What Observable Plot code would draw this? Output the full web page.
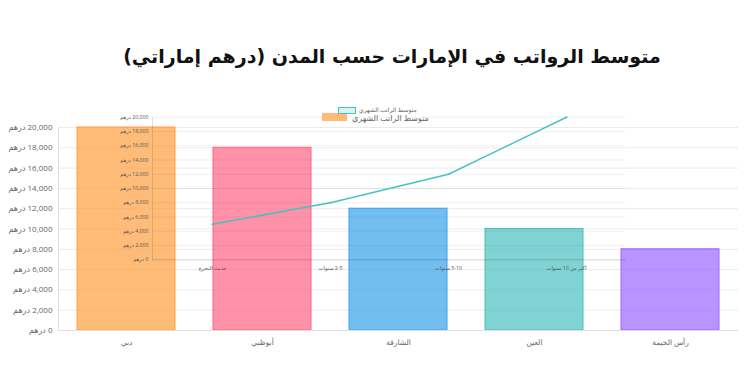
<!DOCTYPE html>
<html><head><meta charset="utf-8">
<script src="https://cdn.jsdelivr.net/npm/d3@7"></script>
<script src="https://cdn.jsdelivr.net/npm/@observablehq/plot@0.6"></script>
<style>
body{margin:0;background:#fff;}
#wrap{position:relative;width:750px;height:375px;overflow:hidden;background:#fff;font-family:"Open Sans","DejaVu Sans",sans-serif;}
#title{position:absolute;top:45px;left:17px;width:750px;text-align:center;font-family:"DejaVu Sans",sans-serif;font-weight:bold;font-size:19px;color:#111;direction:rtl;}
.layer{position:absolute;left:0;top:0;}
.leg{position:absolute;display:flex;align-items:center;color:#666;white-space:nowrap;}
.layer g[aria-label="y-axis tick label"] text{direction:rtl;text-anchor:start;}
.layer g[aria-label="x-axis tick label"] text{direction:rtl;}
</style></head>
<body>
<div id="wrap">
  <div id="outer" class="layer"></div>
  <div id="inner" class="layer"></div>
  <div id="title">متوسط الرواتب في الإمارات حسب المدن (درهم إماراتي)</div>
  <div class="leg" id="leg1" style="left:322px;top:110px;height:14px;font-size:8px;">
    <span style="display:inline-block;width:25px;height:8px;background:rgba(255,159,64,0.7);margin-right:5px;"></span>
    <span>متوسط الراتب الشهري</span>
  </div>
  <div class="leg" id="leg2" style="left:338px;top:105px;height:10px;font-size:6px;">
    <span style="display:inline-block;width:16px;height:5px;background:rgba(75,192,192,0.2);border:1px solid rgb(75,192,192);margin-right:3px;"></span>
    <span>متوسط الراتب الشهري</span>
  </div>
</div>
<script>
// ---- data ----
const cities = ["دبي", "أبوظبي", "الشارقة", "العين", "رأس الخيمة"];
const citySalaries = [20000, 18000, 12000, 10000, 8000];
const cityColors = ["rgba(255,159,64,0.7)", "rgba(255,99,132,0.7)", "rgba(54,162,235,0.7)", "rgba(75,192,192,0.7)", "rgba(153,102,255,0.7)"];
const cityBorders = ["rgb(255,159,64)", "rgb(255,99,132)", "rgb(54,162,235)", "rgb(75,192,192)", "rgb(153,102,255)"];
const experience = ["حديث التخرج", "2-5 سنوات", "5-10 سنوات", "أكثر من 10 سنوات"];
const experienceSalaries = [5000, 8000, 12000, 20000];
const yTicks = [0, 2000, 4000, 6000, 8000, 10000, 12000, 14000, 16000, 18000, 20000];

const fmt = d => d3.format(",")(d) + " درهم";
const gridColor = "#ebebeb";

// ---- outer bar chart ----
const OW = 750, OH = 375, OL = 58, OR = 12, OT = 127, OB = 45;
const barData = cities.map((c, i) => ({city: c, salary: citySalaries[i], fill: cityColors[i], stroke: cityBorders[i]}));
const oS = (OW - OL - OR) + (OH - OT - OB);
const outer = Plot.plot({
  width: OW, height: OH,
  marginLeft: OL, marginRight: OR, marginTop: OT, marginBottom: OB,
  style: {background: "transparent", fontFamily: "'Open Sans', 'DejaVu Sans', sans-serif", color: "#666"},
  x: {domain: cities, paddingInner: 0.28, paddingOuter: 0.14, label: null},
  y: {domain: [0, 20000], label: null},
  color: {type: "identity"},
  marks: [
    Plot.gridY(yTicks, {stroke: gridColor, strokeOpacity: 1}),
    Plot.barY(barData, {x: "city", y: "salary", fill: "fill", stroke: "stroke", strokeWidth: 1}),
    Plot.frame({stroke: "#dedede", strokeDasharray: `0 ${oS} ${oS}`}),
    Plot.axisY(yTicks, {tickSize: 0, tickPadding: 6, tickFormat: fmt, fontSize: 8, fill: "#666", label: null}),
    Plot.axisX({tickSize: 0, tickPadding: 9, fontSize: 7.5, fill: "#666", label: null})
  ]
});
document.getElementById("outer").appendChild(outer);

// ---- inner line chart (overlaid) ----
const IL = 152, IR = 125, IT = 116.7, IB = 115.7;
const iS = (OW - IL - IR) + (OH - IT - IB);
const lineData = experience.map((e, i) => ({exp: e, salary: experienceSalaries[i]}));
const inner = Plot.plot({
  width: OW, height: OH,
  marginLeft: IL, marginRight: IR, marginTop: IT, marginBottom: IB,
  style: {background: "transparent", fontFamily: "'Open Sans', 'DejaVu Sans', sans-serif", color: "#666"},
  x: {type: "point", domain: experience, padding: 0.5, label: null},
  y: {domain: [0, 20000], label: null},
  marks: [
    Plot.gridY(yTicks, {stroke: "rgba(0,0,0,0.06)", strokeOpacity: 1}),
    Plot.frame({stroke: "rgba(0,0,0,0.12)", strokeDasharray: `0 ${iS} ${iS}`}),
    Plot.line(lineData, {x: "exp", y: "salary", stroke: "rgb(75,192,192)", strokeWidth: 1.5}),
    Plot.dot(lineData, {x: "exp", y: "salary", r: 1, fill: "rgb(75,192,192)"}),
    Plot.axisY(yTicks, {tickSize: 0, tickPadding: 4, tickFormat: fmt, fontSize: 5.2, fill: "#555", label: null}),
    Plot.axisX({tickSize: 0, tickPadding: 6, fontSize: 5.2, fill: "#555", label: null})
  ]
});
document.getElementById("inner").appendChild(inner);
</script>
</body></html>
